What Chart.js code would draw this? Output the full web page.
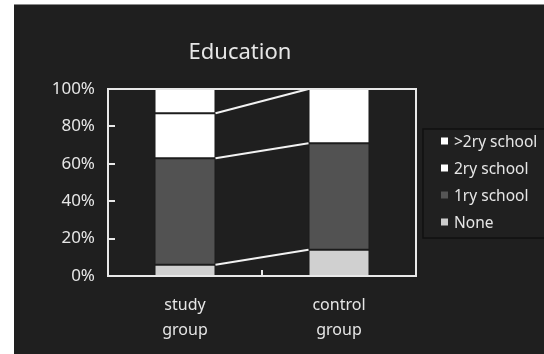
<!DOCTYPE html>
<html>
<head>
<meta charset="utf-8">
<script src="https://cdn.jsdelivr.net/npm/chart.js@4/dist/chart.umd.min.js"></script>
<style>
  html, body { margin: 0; padding: 0; background: #ffffff; }
  canvas { display: block; }
</style>
</head>
<body>
<canvas id="chart" width="544" height="354"></canvas>
<script>
// Education level by group (percent of each group)
const categories = [['study', 'group'], ['control', 'group']];
const seriesNames = ['None', '1ry school', '2ry school', '>2ry school'];
const noneVals = [6, 14];
const primaryVals = [57, 57];
const secondaryVals = [24, 29];
const higherVals = [13, 0];
const yTickValues = [0, 20, 40, 60, 80, 100];
const titleText = 'Education';

const BG = '#1f1f1f';
const TEXT = '#e6e6e6';
const FONT = '"Noto Sans", Lato, sans-serif';
const seriesColors = ['#d0d0d0', '#525252', '#ffffff', '#ffffff'];
const seriesData = [noneVals, primaryVals, secondaryVals, higherVals];

// Page background, plot frame, inner ticks, connector lines, title and legend
const decor = {
  id: 'decor',
  beforeDraw(chart) {
    const ctx = chart.ctx;
    ctx.save();
    ctx.fillStyle = '#ffffff';
    ctx.fillRect(0, 0, chart.width, chart.height);
    ctx.fillStyle = '#8a8a8a';
    ctx.fillRect(14, 4, chart.width - 14, 1);
    ctx.fillStyle = BG;
    ctx.fillRect(14, 5, chart.width - 14, chart.height - 5);
    ctx.restore();
  },
  afterDatasetsDraw(chart) {
    const ctx = chart.ctx;
    const a = chart.chartArea;
    const x = chart.scales.x, y = chart.scales.y;
    ctx.save();

    // lines joining the stacked boundaries of the two bars
    const n = chart.data.datasets.length;
    ctx.strokeStyle = '#f2f2f2';
    ctx.lineWidth = 2;
    for (let d = 0; d < n - 1; d++) {
      const m = chart.getDatasetMeta(d);
      const b0 = m.data[0], b1 = m.data[1];
      let c0 = 0, c1 = 0;
      for (let k = 0; k <= d; k++) { c0 += seriesData[k][0]; c1 += seriesData[k][1]; }
      ctx.beginPath();
      ctx.moveTo(b0.x + b0.width / 2, y.getPixelForValue(c0));
      ctx.lineTo(b1.x - b1.width / 2, y.getPixelForValue(c1));
      ctx.stroke();
    }

    // frame
    ctx.strokeStyle = '#e8e8e8';
    ctx.lineWidth = 2;
    ctx.strokeRect(a.left, a.top, a.right - a.left, a.bottom - a.top);

    // inner y ticks
    ctx.lineWidth = 2;
    yTickValues.forEach(v => {
      if (v === 0 || v === 100) return;
      const py = Math.round(y.getPixelForValue(v));
      ctx.beginPath();
      ctx.moveTo(a.left, py);
      ctx.lineTo(a.left + 7, py);
      ctx.stroke();
    });
    // inner x tick between the categories
    const mid = (x.getPixelForTick(0) + x.getPixelForTick(1)) / 2;
    ctx.beginPath();
    ctx.moveTo(Math.round(mid), a.bottom);
    ctx.lineTo(Math.round(mid), a.bottom - 6);
    ctx.stroke();

    // title
    ctx.fillStyle = TEXT;
    ctx.font = '22px ' + FONT;
    ctx.textAlign = 'center';
    ctx.textBaseline = 'middle';
    ctx.fillText(titleText, 240, 53);

    // legend box
    ctx.fillStyle = '#202020';
    ctx.fillRect(423, 129, chart.width - 423, 109);
    ctx.strokeStyle = '#101010';
    ctx.lineWidth = 1.5;
    ctx.strokeRect(423, 129, chart.width - 421, 109);

    const order = [3, 2, 1, 0];
    const legendColors = ['#cccccc', '#555555', '#ffffff', '#ffffff'];
    ctx.font = '15.5px ' + FONT;
    ctx.textAlign = 'left';
    order.forEach((s, i) => {
      const cy = 141 + i * 27;
      ctx.fillStyle = legendColors[s];
      ctx.fillRect(441, cy - 3.5, 7, 7);
      ctx.fillStyle = TEXT;
      ctx.fillText(seriesNames[s], 454, cy + 2);
    });
    ctx.restore();
  }
};

new Chart(document.getElementById('chart'), {
  type: 'bar',
  data: {
    labels: categories,
    datasets: seriesNames.map((name, i) => ({
      label: name,
      data: seriesData[i],
      backgroundColor: seriesColors[i],
      borderColor: '#1c1c1c',
      borderWidth: 1,
      borderSkipped: false,
      categoryPercentage: 1,
      barPercentage: 0.396
    }))
  },
  options: {
    responsive: false,
    animation: false,
    events: [],
    layout: { padding: { left: 0, right: 128, top: 89, bottom: 0 } },
    plugins: { legend: { display: false }, title: { display: false }, tooltip: { enabled: false } },
    scales: {
      x: {
        stacked: true,
        offset: true,
        grid: { display: false, drawTicks: false },
        border: { display: false },
        ticks: {
          color: TEXT,
          font: { family: FONT, size: 16, lineHeight: 1.5625 },
          padding: 16.5,
          maxRotation: 0
        },
        afterFit(s) { s.height = 78; }
      },
      y: {
        stacked: true,
        min: 0,
        max: 100,
        grid: { display: false, drawTicks: false },
        border: { display: false },
        afterBuildTicks(s) { s.ticks = yTickValues.map(v => ({ value: v })); },
        ticks: {
          color: TEXT,
          font: { family: FONT, size: 17 },
          padding: 13,
          callback: v => v + '%'
        },
        afterFit(s) { s.width = 108; }
      }
    }
  },
  plugins: [decor]
});
</script>
</body>
</html>
